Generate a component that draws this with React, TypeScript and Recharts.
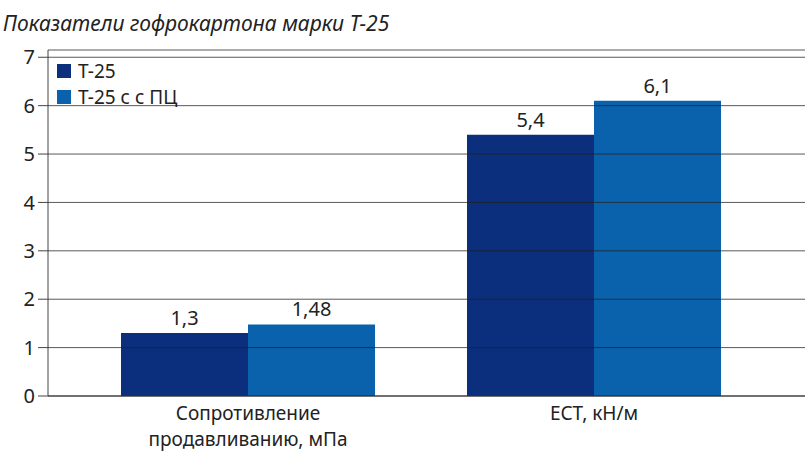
import { BarChart, Bar, XAxis, YAxis, CartesianGrid, LabelList } from "recharts";

const categories = ["Сопротивление\nпродавливанию, мПа", "ЕСТ, кН/м"];
const t25 = [1.3, 5.4];
const t25pc = [1.48, 6.1];
const yTicks = [0, 1, 2, 3, 4, 5, 6, 7];

const SERIES = [
  { key: "t25", name: "Т-25", color: "#0b2f7c" },
  { key: "t25pc", name: "Т-25 с с ПЦ", color: "#0a62ad" },
];

const FONT = "'Noto Sans', 'DejaVu Sans', sans-serif";

const data = categories.map((name, i) => ({ name, t25: t25[i], t25pc: t25pc[i] }));

const fmt = (v: number) => String(v).replace(".", ",");

const CHART_PROPS = {
  width: 805,
  height: 470,
  data,
  margin: { top: 50, right: 0, bottom: 44, left: 0 },
  barCategoryGap: 46,
  barGap: 0,
};

function CategoryTick({ x = 0, y = 0, payload }: { x?: number; y?: number; payload?: { value: string } }) {
  const lines = (payload?.value ?? "").split("\n");
  return (
    <text x={x} y={y} textAnchor="middle" fill="#222" fontSize={19} fontFamily={FONT}>
      {lines.map((l, i) => (
        <tspan key={i} x={x} dy={i === 0 ? 16 : 26}>
          {l}
        </tspan>
      ))}
    </text>
  );
}

// empty tick for the overlay chart: keeps the ticks (and grid) but draws no text
const NoTick = () => <g />;

export default function App() {
  return (
    <div style={{ position: "absolute", left: 0, top: 0, width: 805, height: 470, background: "#fff" }}>
      <div
        style={{
          position: "absolute",
          left: 3,
          top: 9,
          fontFamily: FONT,
          fontStyle: "italic",
          fontSize: 21,
          color: "#222",
          whiteSpace: "nowrap",
        }}
      >
        Показатели гофрокартона марки Т-25
      </div>
      <BarChart {...CHART_PROPS}>
        <XAxis
          dataKey="name"
          height={30}
          tick={<CategoryTick />}
          tickLine={false}
          axisLine={{ stroke: "#444" }}
          padding={{ left: 27, right: 38 }}
          interval={0}
        />
        <YAxis
          width={48}
          domain={[0, 7.15]}
          ticks={yTicks}
          tickSize={10}
          tickMargin={3}
          tick={{ fill: "#222", fontSize: 20, fontFamily: FONT }}
          tickLine={{ stroke: "#444" }}
          axisLine={{ stroke: "#444" }}
          allowDataOverflow
        />
        {SERIES.map((s) => (
          <Bar key={s.key} dataKey={s.key} name={s.name} fill={s.color} isAnimationActive={false}>
            <LabelList
              dataKey={s.key}
              position="top"
              offset={8}
              formatter={(v: number) => fmt(v)}
              style={{ fill: "#222", fontSize: 20, fontFamily: FONT }}
            />
          </Bar>
        ))}
      </BarChart>
      {/* gridlines sit on top of the bars in the original, so draw them in an overlay chart */}
      <div style={{ position: "absolute", left: 0, top: 0, pointerEvents: "none" }}>
        <BarChart {...CHART_PROPS}>
          <XAxis
            dataKey="name"
            height={30}
            tick={NoTick}
            tickLine={false}
            axisLine={false}
            padding={{ left: 27, right: 38 }}
          />
          <YAxis
            width={48}
            domain={[0, 7.15]}
            ticks={yTicks}
            tick={NoTick}
            tickLine={false}
            axisLine={false}
            allowDataOverflow
          />
          <CartesianGrid vertical={false} stroke="#222" strokeOpacity={0.75} />
          {SERIES.map((s) => (
            <Bar key={s.key} dataKey={s.key} fill="transparent" isAnimationActive={false} />
          ))}
        </BarChart>
      </div>
      <div
        style={{
          position: "absolute",
          left: 57,
          top: 58,
          fontFamily: FONT,
          fontSize: 19,
          color: "#222",
          lineHeight: "26px",
        }}
      >
        {SERIES.map((s) => (
          <div key={s.key} style={{ display: "flex", alignItems: "center" }}>
            <span style={{ width: 14, height: 14, background: s.color, marginRight: 7, display: "inline-block" }} />
            {s.name}
          </div>
        ))}
      </div>
    </div>
  );
}
